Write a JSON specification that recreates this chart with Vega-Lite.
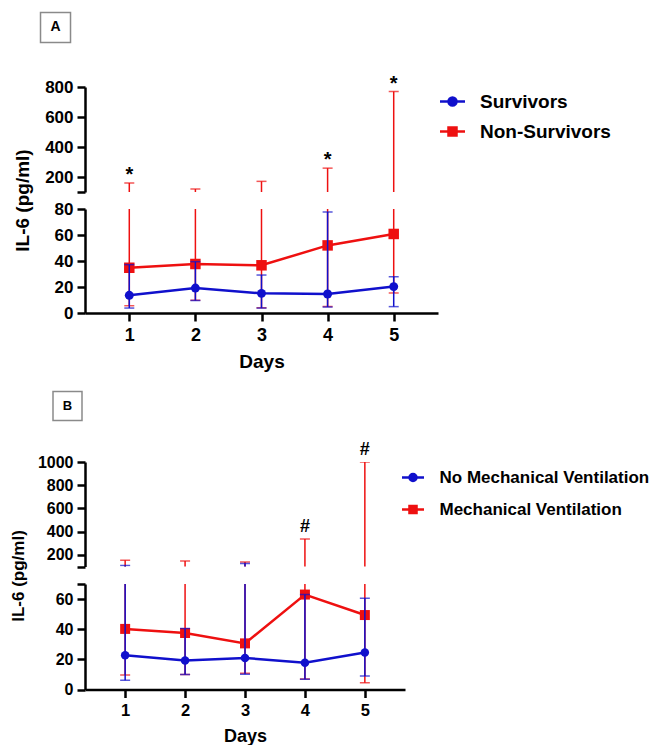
{
  "$schema": "https://vega.github.io/schema/vega-lite/v6.json",
  "background": "white",
  "padding": {"left": 9, "top": 9, "right": 5, "bottom": 0},
  "config": {
    "font": "Liberation Sans",
    "view": {"stroke": null},
    "axis": {
      "domainColor": "black", "domainWidth": 2.5, "tickColor": "black", "tickWidth": 2.5, "tickSize": 8, "labelOverlap": false,
      "labelFont": "Liberation Sans", "labelFontWeight": "bold", "labelColor": "black", "labelPadding": 4,
      "titleFont": "Liberation Sans", "titleFontWeight": "bold", "titleColor": "black", "grid": false
    }
  },
  "data": {"values": [
    {"panel": "A", "group": "Non-Survivors", "day": 1, "mean": 34.8, "lo": 5.6, "hi": 160, "sig": "*"},
    {"panel": "A", "group": "Non-Survivors", "day": 2, "mean": 37.7, "lo": 9.8, "hi": 120, "sig": ""},
    {"panel": "A", "group": "Non-Survivors", "day": 3, "mean": 36.7, "lo": 4.0, "hi": 171, "sig": ""},
    {"panel": "A", "group": "Non-Survivors", "day": 4, "mean": 52.0, "lo": 5.0, "hi": 259, "sig": "*"},
    {"panel": "A", "group": "Non-Survivors", "day": 5, "mean": 60.8, "lo": 15.4, "hi": 770, "sig": "*"},
    {"panel": "A", "group": "Survivors", "day": 1, "mean": 13.6, "lo": 3.8, "hi": 37.2, "sig": ""},
    {"panel": "A", "group": "Survivors", "day": 2, "mean": 19.2, "lo": 9.6, "hi": 39.5, "sig": ""},
    {"panel": "A", "group": "Survivors", "day": 3, "mean": 15.1, "lo": 3.8, "hi": 29.2, "sig": ""},
    {"panel": "A", "group": "Survivors", "day": 4, "mean": 14.6, "lo": 4.6, "hi": 77.7, "sig": ""},
    {"panel": "A", "group": "Survivors", "day": 5, "mean": 20.3, "lo": 4.9, "hi": 27.9, "sig": ""},
    {"panel": "B", "group": "Mechanical Ventilation", "day": 1, "mean": 40.2, "lo": 9.6, "hi": 154, "sig": ""},
    {"panel": "B", "group": "Mechanical Ventilation", "day": 2, "mean": 37.5, "lo": 10, "hi": 147, "sig": ""},
    {"panel": "B", "group": "Mechanical Ventilation", "day": 3, "mean": 30.6, "lo": 10.7, "hi": 138, "sig": ""},
    {"panel": "B", "group": "Mechanical Ventilation", "day": 4, "mean": 63.0, "lo": 7, "hi": 336, "sig": "#"},
    {"panel": "B", "group": "Mechanical Ventilation", "day": 5, "mean": 49.4, "lo": 4.4, "hi": 1000, "sig": "#"},
    {"panel": "B", "group": "No Mechanical Ventilation", "day": 1, "mean": 22.7, "lo": 6.2, "hi": 108, "sig": ""},
    {"panel": "B", "group": "No Mechanical Ventilation", "day": 2, "mean": 19.2, "lo": 10, "hi": 40.5, "sig": ""},
    {"panel": "B", "group": "No Mechanical Ventilation", "day": 3, "mean": 20.9, "lo": 10.2, "hi": 126, "sig": ""},
    {"panel": "B", "group": "No Mechanical Ventilation", "day": 4, "mean": 17.8, "lo": 6.8, "hi": 63, "sig": ""},
    {"panel": "B", "group": "No Mechanical Ventilation", "day": 5, "mean": 24.6, "lo": 9, "hi": 60.5, "sig": ""}
  ]},
  "bounds": "flush",
  "spacing": 17,
  "resolve": {"scale": {"x": "independent", "y": "independent", "color": "independent"}, "axis": {"x": "independent", "y": "independent"}, "legend": {"color": "independent"}},
  "vconcat": [
    {
      "width": 353, "height": 105,
      "transform": [{"filter": "datum.panel == 'A'"}],
      "encoding": {"x": {"field": "day", "type": "quantitative", "scale": {"domain": [0.33, 5.67], "nice": false, "zero": false}, "axis": null}},
      "layer": [
        {"mark": {"type": "rule", "clip": true, "strokeWidth": 1.5},
         "encoding": {
           "y": {"field": "lo", "type": "quantitative", "scale": {"domain": [100, 800], "nice": false, "zero": false},
                 "axis": {"values": [100, 200, 400, 600, 800], "tickCount": 20, "format": "d", "labelOverlap": false, "labelExpr": "datum.value == 100 ? '' : datum.label", "title": null, "labelFontSize": 17}},
           "y2": {"field": "hi"},
           "color": {"field": "group", "type": "nominal", "scale": {"domain": ["Survivors", "Non-Survivors"], "range": ["#1010cc", "#ee1010"]},
             "legend": {"title": null, "orient": "none", "legendX": 353.5, "legendY": 0.5, "labelFontSize": 19, "labelFontWeight": "bold", "labelColor": "black", "labelFont": "Liberation Sans", "labelLimit": 0, "symbolSize": 625, "labelOffset": 13.5, "rowPadding": 6, "symbolStrokeWidth": 2.5,
               "encode": {"symbols": {"update": {
                 "shape": {"signal": "datum.value == 'Survivors' ? 'M-1,0H1M0.32,0A0.32,0.32,0,1,1,-0.32,0A0.32,0.32,0,1,1,0.32,0Z' : 'M-1,0H1M-0.32,-0.32H0.32V0.32H-0.32Z'"},
                 "fill": {"signal": "datum.value == 'Survivors' ? '#1010cc' : '#ee1010'"},
                 "stroke": {"signal": "datum.value == 'Survivors' ? '#1010cc' : '#ee1010'"},
                 "opacity": {"value": 1}, "fillOpacity": {"value": 1}, "strokeOpacity": {"value": 1}}}}}}
         }},
        {"mark": {"type": "tick", "clip": true, "orient": "horizontal", "size": 10, "thickness": 1.5},
         "encoding": {"y": {"field": "hi", "type": "quantitative"}, "color": {"field": "group", "type": "nominal"}}},
        {"mark": {"type": "tick", "clip": true, "orient": "horizontal", "size": 10, "thickness": 1.5},
         "encoding": {"y": {"field": "lo", "type": "quantitative"}, "color": {"field": "group", "type": "nominal"}}},
        {"mark": {"type": "text", "fontSize": 20, "fontWeight": "bold", "color": "black", "baseline": "alphabetic", "dy": -2},
         "encoding": {"y": {"field": "hi", "type": "quantitative"}, "text": {"field": "sig"}}},
        {"transform": [{"filter": "datum.group == 'Survivors' && datum.day == 1"}],
         "mark": {"type": "point", "shape": "square", "size": 900, "filled": false, "stroke": "#8a8a8a", "strokeWidth": 1.5, "opacity": 1},
         "encoding": {"x": {"datum": -0.116, "type": "quantitative"}, "y": {"datum": 1197, "type": "quantitative"}}},
        {"transform": [{"filter": "datum.group == 'Survivors' && datum.day == 1"}],
         "mark": {"type": "text", "fontSize": 14, "fontWeight": "bold", "color": "black", "baseline": "middle", "text": "A"},
         "encoding": {"x": {"datum": -0.116, "type": "quantitative"}, "y": {"datum": 1197, "type": "quantitative"}}}
      ]
    },
    {
      "width": 353, "height": 104,
      "transform": [{"filter": "datum.panel == 'A'"}],
      "encoding": {"x": {"field": "day", "type": "quantitative", "scale": {"domain": [0.33, 5.67], "nice": false, "zero": false},
        "axis": {"values": [1, 2, 3, 4, 5], "tickCount": 20, "format": "d", "title": "Days", "labelFontSize": 18, "titleFontSize": 19, "labelPadding": 5, "titlePadding": 8}}},
      "layer": [
        {"transform": [{"filter": "datum.group == 'Non-Survivors'"}],
         "layer": [
           {"mark": {"type": "rule", "clip": true, "strokeWidth": 1.5, "color": "#ee1010"},
            "encoding": {"y": {"field": "lo", "type": "quantitative", "scale": {"domain": [0, 80], "nice": false, "zero": false},
              "axis": {"values": [0, 20, 40, 60, 80], "tickCount": 20, "labelOverlap": false, "title": "IL-6 (pg/ml)", "titleFontSize": 19, "labelFontSize": 17, "titleY": -9, "titlePadding": 21.5}},
              "y2": {"field": "hi"}}},
           {"mark": {"type": "tick", "clip": true, "orient": "horizontal", "size": 10, "thickness": 1.5, "color": "#ee1010"}, "encoding": {"y": {"field": "hi", "type": "quantitative"}}},
           {"mark": {"type": "tick", "clip": true, "orient": "horizontal", "size": 10, "thickness": 1.5, "color": "#ee1010"}, "encoding": {"y": {"field": "lo", "type": "quantitative"}}},
           {"mark": {"type": "line", "strokeWidth": 2.5, "color": "#ee1010"}, "encoding": {"y": {"field": "mean", "type": "quantitative"}}},
           {"mark": {"type": "point", "shape": "square", "size": 110, "filled": true, "opacity": 1, "color": "#ee1010"}, "encoding": {"y": {"field": "mean", "type": "quantitative"}}}
         ]},
        {"transform": [{"filter": "datum.group == 'Survivors'"}],
         "layer": [
           {"mark": {"type": "rule", "clip": true, "strokeWidth": 1.5, "color": "#1010cc"}, "encoding": {"y": {"field": "lo", "type": "quantitative"}, "y2": {"field": "hi"}}},
           {"mark": {"type": "tick", "clip": true, "orient": "horizontal", "size": 10, "thickness": 1.5, "color": "#1010cc"}, "encoding": {"y": {"field": "hi", "type": "quantitative"}}},
           {"mark": {"type": "tick", "clip": true, "orient": "horizontal", "size": 10, "thickness": 1.5, "color": "#1010cc"}, "encoding": {"y": {"field": "lo", "type": "quantitative"}}},
           {"mark": {"type": "line", "strokeWidth": 2.5, "color": "#1010cc"}, "encoding": {"y": {"field": "mean", "type": "quantitative"}}},
           {"mark": {"type": "point", "shape": "circle", "size": 80, "filled": true, "opacity": 1, "color": "#1010cc"}, "encoding": {"y": {"field": "mean", "type": "quantitative"}}}
         ]}
      ]
    },
    {
      "width": 353, "height": 115,
      "transform": [{"filter": "false"}],
      "mark": {"type": "point", "opacity": 0},
      "encoding": {"x": {"field": "day", "type": "quantitative", "axis": null}, "y": {"field": "mean", "type": "quantitative", "axis": null}}
    },
    {
      "width": 320, "height": 104.5,
      "transform": [{"filter": "datum.panel == 'B'"}],
      "encoding": {"x": {"field": "day", "type": "quantitative", "scale": {"domain": [0.33, 5.67], "nice": false, "zero": false}, "axis": null}},
      "layer": [
        {"mark": {"type": "rule", "clip": true, "strokeWidth": 1.5},
         "encoding": {
           "y": {"field": "lo", "type": "quantitative", "scale": {"domain": [100, 1000], "nice": false, "zero": false},
                 "axis": {"values": [100, 200, 400, 600, 800, 1000], "tickCount": 20, "format": "d", "labelOverlap": false, "labelExpr": "datum.value == 100 ? '' : datum.label", "title": null, "labelFontSize": 16}},
           "y2": {"field": "hi"},
           "color": {"field": "group", "type": "nominal", "scale": {"domain": ["No Mechanical Ventilation", "Mechanical Ventilation"], "range": ["#1010cc", "#ee1010"]},
             "legend": {"title": null, "orient": "none", "legendX": 315.5, "legendY": 3, "labelFontSize": 17, "labelFontWeight": "bold", "labelColor": "black", "labelFont": "Liberation Sans", "labelLimit": 0, "symbolSize": 484, "labelOffset": 14, "rowPadding": 10, "symbolStrokeWidth": 2.5,
               "encode": {"symbols": {"update": {
                 "shape": {"signal": "datum.value == 'No Mechanical Ventilation' ? 'M-1,0H1M0.32,0A0.32,0.32,0,1,1,-0.32,0A0.32,0.32,0,1,1,0.32,0Z' : 'M-1,0H1M-0.32,-0.32H0.32V0.32H-0.32Z'"},
                 "fill": {"signal": "datum.value == 'No Mechanical Ventilation' ? '#1010cc' : '#ee1010'"},
                 "stroke": {"signal": "datum.value == 'No Mechanical Ventilation' ? '#1010cc' : '#ee1010'"},
                 "opacity": {"value": 1}, "fillOpacity": {"value": 1}, "strokeOpacity": {"value": 1}}}}}}
         }},
        {"mark": {"type": "tick", "clip": true, "orient": "horizontal", "size": 10, "thickness": 1.5},
         "encoding": {"y": {"field": "hi", "type": "quantitative"}, "color": {"field": "group", "type": "nominal"}}},
        {"mark": {"type": "tick", "clip": true, "orient": "horizontal", "size": 10, "thickness": 1.5},
         "encoding": {"y": {"field": "lo", "type": "quantitative"}, "color": {"field": "group", "type": "nominal"}}},
        {"mark": {"type": "text", "fontSize": 18, "fontWeight": "bold", "color": "black", "baseline": "alphabetic", "dy": -7},
         "encoding": {"y": {"field": "hi", "type": "quantitative"}, "text": {"field": "sig"}}},
        {"transform": [{"filter": "datum.group == 'No Mechanical Ventilation' && datum.day == 1"}],
         "mark": {"type": "point", "shape": "square", "size": 841, "filled": false, "stroke": "#8a8a8a", "strokeWidth": 1.5, "opacity": 1},
         "encoding": {"x": {"datum": 0.038, "type": "quantitative"}, "y": {"datum": 1483, "type": "quantitative"}}},
        {"transform": [{"filter": "datum.group == 'No Mechanical Ventilation' && datum.day == 1"}],
         "mark": {"type": "text", "fontSize": 13, "fontWeight": "bold", "color": "black", "baseline": "middle", "text": "B"},
         "encoding": {"x": {"datum": 0.038, "type": "quantitative"}, "y": {"datum": 1483, "type": "quantitative"}}}
      ]
    },
    {
      "width": 320, "height": 105.5,
      "transform": [{"filter": "datum.panel == 'B'"}],
      "encoding": {"x": {"field": "day", "type": "quantitative", "scale": {"domain": [0.33, 5.67], "nice": false, "zero": false},
        "axis": {"values": [1, 2, 3, 4, 5], "tickCount": 20, "format": "d", "title": "Days", "labelFontSize": 16.5, "titleFontSize": 18, "labelPadding": 5, "titlePadding": 8}}},
      "layer": [
        {"transform": [{"filter": "datum.group == 'Mechanical Ventilation'"}],
         "layer": [
           {"mark": {"type": "rule", "clip": true, "strokeWidth": 1.5, "color": "#ee1010"},
            "encoding": {"y": {"field": "lo", "type": "quantitative", "scale": {"domain": [0, 70], "nice": false, "zero": false},
              "axis": {"values": [0, 20, 40, 60, 70], "tickCount": 20, "labelOverlap": false, "labelExpr": "datum.value == 70 ? '' : datum.label", "title": "IL-6 (pg/ml)", "titleFontSize": 17, "labelFontSize": 16, "titleY": -8.5, "titlePadding": 27.5}},
              "y2": {"field": "hi"}}},
           {"mark": {"type": "tick", "clip": true, "orient": "horizontal", "size": 10, "thickness": 1.5, "color": "#ee1010"}, "encoding": {"y": {"field": "hi", "type": "quantitative"}}},
           {"mark": {"type": "tick", "clip": true, "orient": "horizontal", "size": 10, "thickness": 1.5, "color": "#ee1010"}, "encoding": {"y": {"field": "lo", "type": "quantitative"}}},
           {"mark": {"type": "line", "strokeWidth": 2.5, "color": "#ee1010"}, "encoding": {"y": {"field": "mean", "type": "quantitative"}}},
           {"mark": {"type": "point", "shape": "square", "size": 100, "filled": true, "opacity": 1, "color": "#ee1010"}, "encoding": {"y": {"field": "mean", "type": "quantitative"}}}
         ]},
        {"transform": [{"filter": "datum.group == 'No Mechanical Ventilation'"}],
         "layer": [
           {"mark": {"type": "rule", "clip": true, "strokeWidth": 1.5, "color": "#1010cc"}, "encoding": {"y": {"field": "lo", "type": "quantitative"}, "y2": {"field": "hi"}}},
           {"mark": {"type": "tick", "clip": true, "orient": "horizontal", "size": 10, "thickness": 1.5, "color": "#1010cc"}, "encoding": {"y": {"field": "hi", "type": "quantitative"}}},
           {"mark": {"type": "tick", "clip": true, "orient": "horizontal", "size": 10, "thickness": 1.5, "color": "#1010cc"}, "encoding": {"y": {"field": "lo", "type": "quantitative"}}},
           {"mark": {"type": "line", "strokeWidth": 2.5, "color": "#1010cc"}, "encoding": {"y": {"field": "mean", "type": "quantitative"}}},
           {"mark": {"type": "point", "shape": "circle", "size": 72, "filled": true, "opacity": 1, "color": "#1010cc"}, "encoding": {"y": {"field": "mean", "type": "quantitative"}}}
         ]}
      ]
    }
  ]
}
